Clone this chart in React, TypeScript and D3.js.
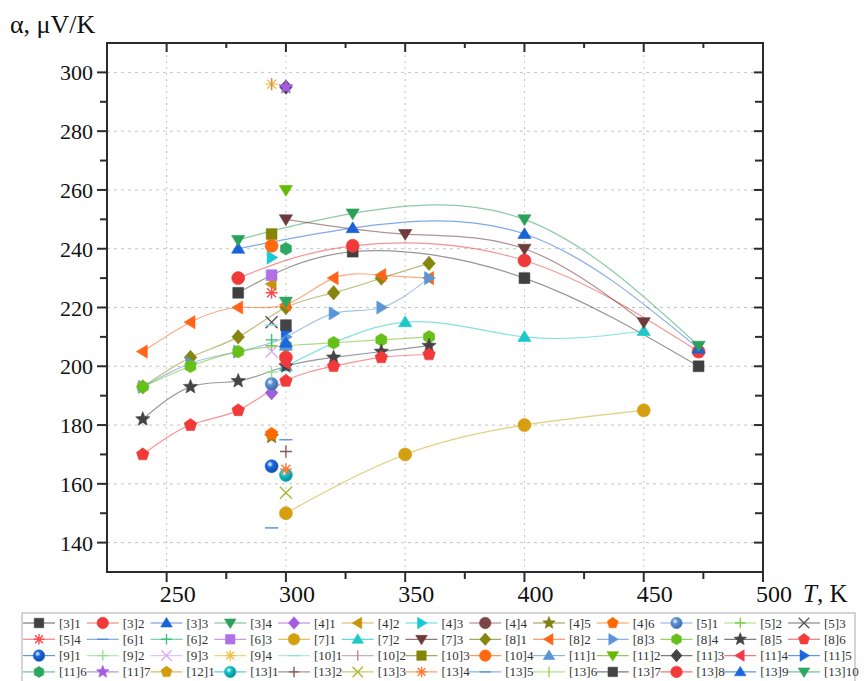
import React from 'react';
import * as d3 from 'd3';

const W = 864;
const H = 681;
const PLOT = { left: 107, right: 763, top: 43, bottom: 572 };

const xDomain = [225, 500];
const yDomain = [130, 310];
const xTickLabels = [250, 300, 350, 400, 450, 500];
const xMinorTicks = [250, 275, 300, 325, 350, 375, 400, 425, 450, 475, 500];
const yTickLabels = [140, 160, 180, 200, 220, 240, 260, 280, 300];
const yMinorTicks = [140, 150, 160, 170, 180, 190, 200, 210, 220, 230, 240, 250, 260, 270, 280, 290, 300];

const seriesNames = [
  '[3]1', '[3]2', '[3]3', '[3]4', '[4]1', '[4]2', '[4]3', '[4]4', '[4]5', '[4]6', '[5]1', '[5]2', '[5]3',
  '[5]4', '[6]1', '[6]2', '[6]3', '[7]1', '[7]2', '[7]3', '[8]1', '[8]2', '[8]3', '[8]4', '[8]5', '[8]6',
  '[9]1', '[9]2', '[9]3', '[9]4', '[10]1', '[10]2', '[10]3', '[10]4', '[11]1', '[11]2', '[11]3', '[11]4', '[11]5',
  '[11]6', '[11]7', '[12]1', '[13]1', '[13]2', '[13]3', '[13]4', '[13]5', '[13]6', '[13]7', '[13]8', '[13]9', '[13]10',
];

const T3 = [280, 328, 400, 473];
const T7 = [300, 350, 400, 450];
const T8 = [240, 260, 280, 300, 320, 340, 360];

const seriesT: number[][] = [
  T3, T3, T3, T3, [294], [294], [294], [], [294], [294], [294], [294], [294],
  [294], [294], [294], [294], T7, T7, T7, T8, T8, T8, T8, T8, T8,
  [294], [294], [294], [294], [294], [294], [294], [294], [300], [300], [300], [300], [300],
  [300], [300], [], [300], [300], [300], [300], [300], [], [300], [300], [300], [300],
];

const seriesAlpha: number[][] = [
  [225, 239, 230, 200], [230, 241, 236, 205], [240, 247, 245, 206], [243, 252, 250, 207],
  [191], [228], [237], [], [176], [177], [194], [207], [215],
  [225], [145], [209], [231],
  [150, 170, 180, 185], [200, 215, 210, 212], [250, 245, 240, 215],
  [193, 203, 210, 220, 225, 230, 235],
  [205, 215, 220, 221, 230, 231, 230],
  [193, 201, 205, 210, 218, 220, 230],
  [193, 200, 205, 207, 208, 209, 210],
  [182, 193, 195, 200, 203, 205, 207],
  [170, 180, 185, 195, 200, 203, 204],
  [166], [198], [205], [296], [214], [296], [245], [241], [207], [260], [295], [201], [212],
  [240], [295], [], [163], [171], [157], [165], [175], [], [214], [203], [208], [222],
];

const seriesColor = [
  '#404040', '#f03a3a', '#1a62d9', '#2ca05a', '#a35ee0', '#c8940a', '#17c9d6', '#7a4545', '#808015', '#ff6a00', '#5b8fd6', '#7fd04a', '#555555',
  '#ff4a4a', '#4f8fe0', '#3cc07a', '#b070e8', '#d4a010', '#1fc8c8', '#6e3b3b', '#85850f', '#ff6418', '#5a96d6', '#66c018', '#444444', '#f23a3a',
  '#1a66e0', '#8fe08f', '#d9aaf0', '#f0c040', '#8de0e0', '#c08a90', '#85850a', '#ff6a10', '#5a96d6', '#66b800', '#444444', '#f03a4a', '#1a66e0',
  '#2ea860', '#a35ee0', '#d49a10', '#10c0c8', '#8a5a5a', '#a8b830', '#ff7a30', '#5a96e0', '#8fd850', '#444444', '#f23a3a', '#1a66e0', '#2ea860',
];

const seriesSymbol = [
  'square', 'circle', 'triUp', 'triDown', 'diamond', 'triLeft', 'triRight', 'circle', 'star', 'pentagon', 'sphere', 'plus', 'x',
  'asterisk', 'dash', 'plus', 'square', 'circle', 'triUp', 'triDown', 'diamond', 'triLeft', 'triRight', 'hexagon', 'star', 'pentagon',
  'sphere', 'plus', 'x', 'asterisk', 'dash', 'vbar', 'square', 'circle', 'triUp', 'triDown', 'diamond', 'triLeft', 'triRight',
  'hexagon', 'star', 'pentagon', 'sphere', 'plus', 'x', 'asterisk', 'dash', 'vbar', 'square', 'circle', 'triUp', 'triDown',
];

const STROKE_SYMBOLS = new Set(['plus', 'x', 'asterisk', 'dash', 'vbar']);

function polygon(n: number, r: number, rot: number): string {
  const pts: [number, number][] = [];
  for (let i = 0; i < n; i++) {
    const a = rot + (i * 2 * Math.PI) / n;
    pts.push([r * Math.cos(a), r * Math.sin(a)]);
  }
  return 'M' + pts.map((p) => p[0].toFixed(2) + ',' + p[1].toFixed(2)).join('L') + 'Z';
}

function starPath(ro: number, ri: number): string {
  const pts: [number, number][] = [];
  for (let i = 0; i < 10; i++) {
    const r = i % 2 === 0 ? ro : ri;
    const a = -Math.PI / 2 + (i * Math.PI) / 5;
    pts.push([r * Math.cos(a), r * Math.sin(a)]);
  }
  return 'M' + pts.map((p) => p[0].toFixed(2) + ',' + p[1].toFixed(2)).join('L') + 'Z';
}

function symbolPath(type: string, s: number): string {
  const h = s / 2;
  switch (type) {
    case 'square':
      return `M${-h * 0.9},${-h * 0.9}H${h * 0.9}V${h * 0.9}H${-h * 0.9}Z`;
    case 'triUp':
      return `M0,${-h * 1.05}L${h * 1.1},${h * 0.75}L${-h * 1.1},${h * 0.75}Z`;
    case 'triDown':
      return `M0,${h * 1.05}L${h * 1.1},${-h * 0.75}L${-h * 1.1},${-h * 0.75}Z`;
    case 'triLeft':
      return `M${-h * 1.05},0L${h * 0.75},${h * 1.1}L${h * 0.75},${-h * 1.1}Z`;
    case 'triRight':
      return `M${h * 1.05},0L${-h * 0.75},${h * 1.1}L${-h * 0.75},${-h * 1.1}Z`;
    case 'diamond':
      return `M0,${-h * 1.2}L${h * 1.05},0L0,${h * 1.2}L${-h * 1.05},0Z`;
    case 'star':
      return starPath(h * 1.25, h * 0.55);
    case 'pentagon':
      return polygon(5, h * 1.1, -Math.PI / 2);
    case 'hexagon':
      return polygon(6, h * 1.05, -Math.PI / 2);
    case 'plus':
      return `M${-h},0H${h}M0,${-h}V${h}`;
    case 'x':
      return `M${-h},${-h}L${h},${h}M${-h},${h}L${h},${-h}`;
    case 'asterisk': {
      const d = h * 0.75;
      return `M${-h},0H${h}M0,${-h}V${h}M${-d},${-d}L${d},${d}M${-d},${d}L${d},${-d}`;
    }
    case 'dash':
      return `M${-h * 1.1},0H${h * 1.1}`;
    case 'vbar':
      return `M0,${-h}V${h}`;
    default:
      return '';
  }
}

function Marker({ type, color, size, x, y, gid }: { type: string; color: string; size: number; x: number; y: number; gid: string }) {
  if (type === 'circle' || type === 'sphere') {
    return (
      <circle
        cx={x}
        cy={y}
        r={size / 2 + 0.5}
        fill={type === 'sphere' ? `url(#${gid})` : color}
        stroke={color}
        strokeWidth={0.6}
      />
    );
  }
  const d = symbolPath(type, size);
  if (STROKE_SYMBOLS.has(type)) {
    return (
      <g transform={`translate(${x},${y})`}>
        <path d={d} fill="none" stroke={color} strokeWidth={1.4} />
        {type === 'asterisk' ? <circle r={1.6} fill={color} /> : null}
      </g>
    );
  }
  return <path transform={`translate(${x},${y})`} d={d} fill={color} stroke={color} strokeWidth={0.6} strokeLinejoin="round" />;
}

export default function App() {
  const x = d3.scaleLinear().domain(xDomain).range([PLOT.left, PLOT.right]);
  const y = d3.scaleLinear().domain(yDomain).range([PLOT.bottom, PLOT.top]);
  const line = d3
    .line<[number, number]>()
    .x((d) => x(d[0]))
    .y((d) => y(d[1]))
    .curve(d3.curveNatural);

  const series = seriesNames.map((name, i) => ({
    name,
    color: seriesColor[i],
    symbol: seriesSymbol[i],
    pts: seriesT[i].map((t, j) => [t, seriesAlpha[i][j]] as [number, number]),
  }));

  const serif = '"Liberation Serif", "Times New Roman", serif';
  const axisColor = '#2b2b2b';

  const legendCols = 13;
  const legendX0 = 39;
  const legendDX = 63.75;
  const legendY0 = 623;
  const legendDY = 16.3;

  return (
    <svg width={W} height={H} style={{ position: 'absolute', left: 0, top: 0, background: '#fff' }} fontFamily={serif}>
      <defs>
        {series.map((s, i) =>
          s.symbol === 'sphere' ? (
            <radialGradient key={i} id={`sph${i}`} cx="0.38" cy="0.35" r="0.7">
              <stop offset="0" stopColor="#ffffff" />
              <stop offset="0.35" stopColor={s.color} />
              <stop offset="1" stopColor={d3.color(s.color)!.darker(1).formatHex()} />
            </radialGradient>
          ) : null
        )}
        <clipPath id="plotclip">
          <rect x={PLOT.left} y={PLOT.top} width={PLOT.right - PLOT.left} height={PLOT.bottom - PLOT.top} />
        </clipPath>
      </defs>
      <rect x={0} y={0} width={W} height={H} fill="#fff" />

      {/* grid */}
      {xTickLabels.filter((t) => t < 500).map((t) => (
        <line key={'gx' + t} x1={x(t)} x2={x(t)} y1={PLOT.top} y2={PLOT.bottom} stroke="#c4c4c4" strokeWidth={1} strokeDasharray="2,4" />
      ))}
      {yTickLabels.map((t) => (
        <line key={'gy' + t} x1={PLOT.left} x2={PLOT.right} y1={y(t)} y2={y(t)} stroke="#c4c4c4" strokeWidth={1} strokeDasharray="3,4" />
      ))}

      {/* lines */}
      <g clipPath="url(#plotclip)">
        {series.map((s, i) =>
          s.pts.length > 1 ? (
            <path key={'l' + i} d={line(s.pts) || ''} fill="none" stroke={s.color} strokeOpacity={0.55} strokeWidth={1.2} />
          ) : null
        )}
      </g>

      {/* markers */}
      {series.map((s, i) =>
        s.pts.map((p, j) => (
          <Marker key={'m' + i + '_' + j} type={s.symbol} color={s.color} size={12} x={x(p[0])} y={y(p[1])} gid={`sph${i}`} />
        ))
      )}

      {/* frame */}
      <rect x={PLOT.left} y={PLOT.top} width={PLOT.right - PLOT.left} height={PLOT.bottom - PLOT.top} fill="none" stroke={axisColor} strokeWidth={2} />

      {/* x ticks */}
      {xMinorTicks.map((t) => {
        const major = t % 50 === 0;
        return (
          <g key={'xt' + t}>
            <line x1={x(t)} x2={x(t)} y1={PLOT.bottom} y2={PLOT.bottom + (major ? 10 : 7)} stroke={axisColor} strokeWidth={2} />
            {t < 500 ? (
              <line x1={x(t)} x2={x(t)} y1={PLOT.top} y2={PLOT.top + (major ? 9 : 5)} stroke={axisColor} strokeWidth={2} />
            ) : null}
          </g>
        );
      })}
      {xTickLabels.map((t) => (
        <text key={'xl' + t} x={x(t) + 11} y={602} fontSize={24} textAnchor="middle" fill="#111">
          {t}
        </text>
      ))}

      {/* y ticks */}
      {yMinorTicks.map((t) => {
        const major = t % 20 === 0;
        return (
          <g key={'yt' + t}>
            <line x1={PLOT.left - (major ? 10 : 7)} x2={PLOT.left} y1={y(t)} y2={y(t)} stroke={axisColor} strokeWidth={2} />
            <line x1={PLOT.right - (major ? 9 : 8)} x2={PLOT.right} y1={y(t)} y2={y(t)} stroke={axisColor} strokeWidth={2} />
          </g>
        );
      })}
      {yTickLabels.map((t) => (
        <text key={'yl' + t} x={93} y={y(t) + 8} fontSize={22} textAnchor="end" fill="#111">
          {t}
        </text>
      ))}

      {/* axis titles */}
      <text x={10} y={33} fontSize={26} fill="#111">
        α, μV/K
      </text>
      <text x={803} y={602} fontSize={25} fill="#111">
        <tspan fontStyle="italic">T</tspan>, K
      </text>

      {/* legend */}
      <rect x={22} y={613} width={833} height={80} fill="#fff" stroke="#b8b8b8" strokeWidth={1.2} />
      {series.map((s, i) => {
        const col = i % legendCols;
        const row = Math.floor(i / legendCols);
        const cx = legendX0 + col * legendDX;
        const cy = legendY0 + row * legendDY;
        return (
          <g key={'lg' + i}>
            <line x1={cx - 16} x2={cx + 16} y1={cy} y2={cy} stroke={s.color} strokeOpacity={0.7} strokeWidth={1.2} />
            <Marker type={s.symbol} color={s.color} size={10.5} x={cx} y={cy} gid={`sph${i}`} />
            <text x={cx + 20} y={cy + 4.5} fontSize={13} fill="#333">
              {s.name}
            </text>
          </g>
        );
      })}
    </svg>
  );
}
